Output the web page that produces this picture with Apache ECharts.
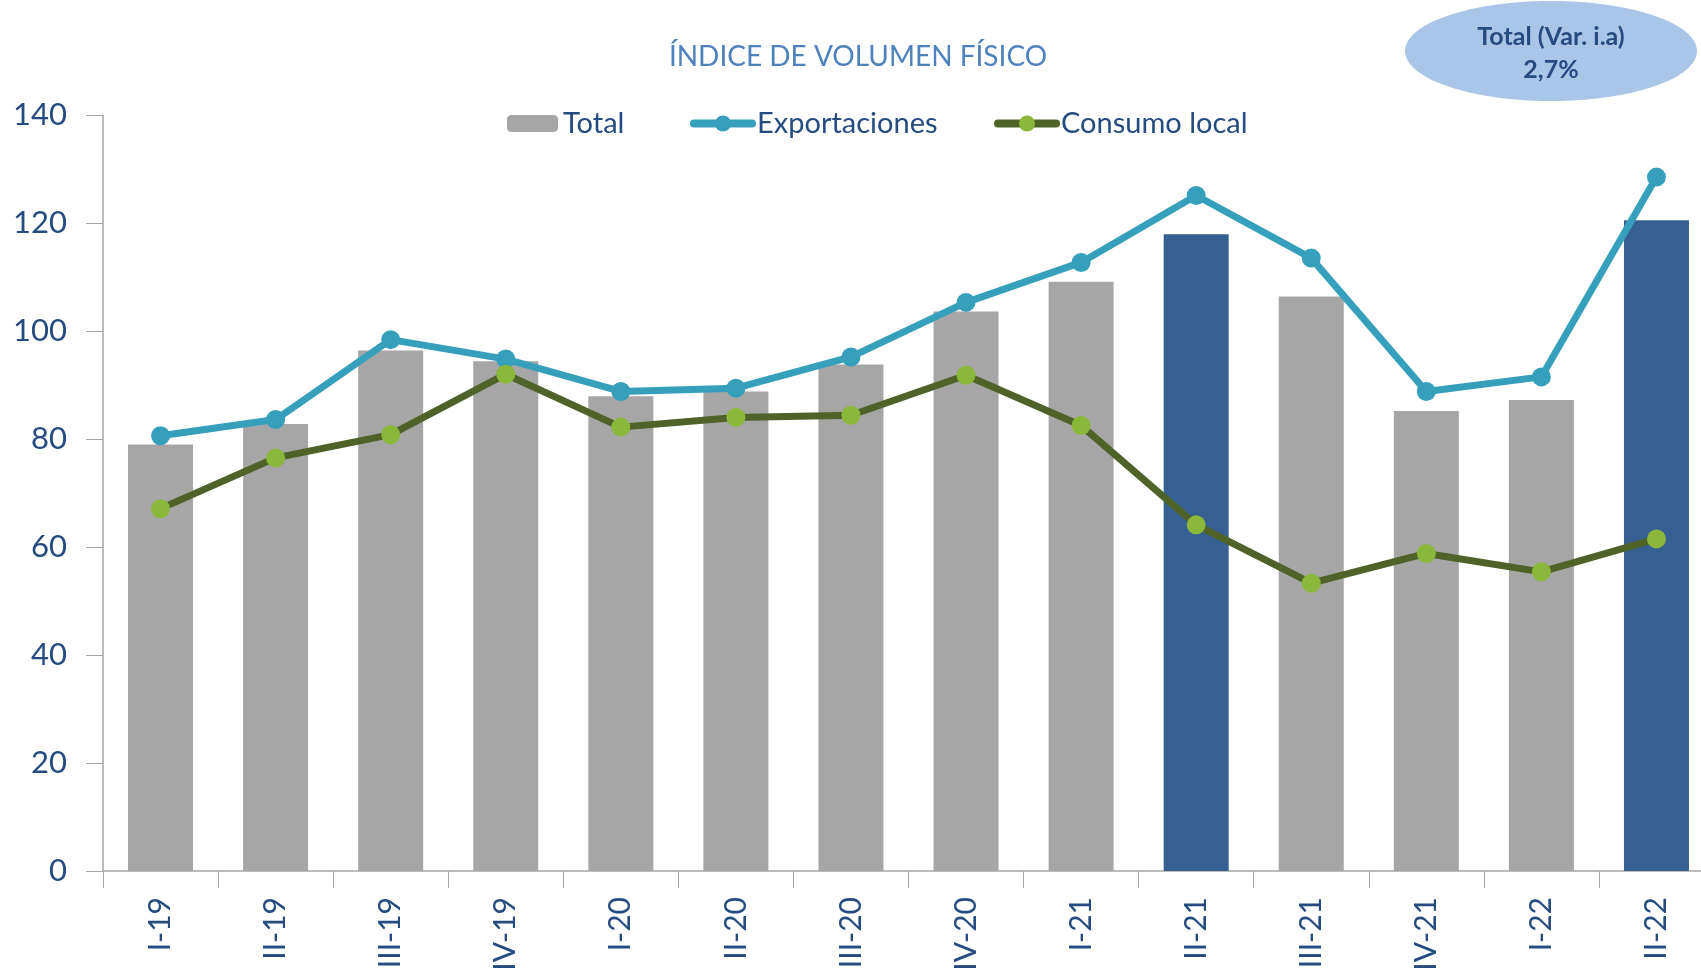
<!DOCTYPE html>
<html>
<head>
<meta charset="utf-8">
<script src="https://cdn.jsdelivr.net/npm/echarts@6/dist/echarts.min.js"></script>
<style>
  html, body { margin: 0; padding: 0; background: #fff; }
  #chart { width: 1701px; height: 977px; }
</style>
</head>
<body>
<div id="chart"></div>
<script>
// trimestres
const categories = ['I-19', 'II-19', 'III-19', 'IV-19', 'I-20', 'II-20', 'III-20', 'IV-20',
  'I-21', 'II-21', 'III-21', 'IV-21', 'I-22', 'II-22'];
const total = [79.0, 82.8, 96.4, 94.4, 87.9, 88.8, 93.8, 103.6, 109.1, 117.9, 106.4, 85.2, 87.2, 120.5];
const exportaciones = [80.6, 83.6, 98.4, 94.8, 88.8, 89.4, 95.2, 105.3, 112.7, 125.1, 113.5, 88.8, 91.5, 128.5];
const consumoLocal = [67.1, 76.5, 80.8, 92.0, 82.2, 84.0, 84.4, 91.8, 82.5, 64.1, 53.3, 58.8, 55.4, 61.5];
const highlighted = ['II-21', 'II-22'];
const yTicks = [0, 20, 40, 60, 80, 100, 120, 140];
const badgeLines = ['Total (Var. i.a)', '2,7%'];

const FONT = 'Lato';
const DARK_BLUE = '#264b80';
const GREY = '#a6a6a6';

let chart = echarts.init(document.getElementById('chart'));

let totalData = total.map((v, i) => {
  if (highlighted.indexOf(categories[i]) >= 0) {
    return { value: v, itemStyle: { color: '#366092' } };
  }
  return v;
});

const legendText = { color: DARK_BLUE, fontFamily: FONT, fontSize: 29 };

chart.setOption({
  backgroundColor: '#fff',
  animation: false,
  title: {
    text: 'ÍNDICE DE VOLUMEN FÍSICO',
    left: 853,
    textAlign: 'center',
    top: 38,
    textStyle: { color: '#4f81bd', fontFamily: FONT, fontWeight: 'normal', fontSize: 28 }
  },
  legend: [
    {
      data: ['Total'], left: 507, top: 109, padding: 0, itemWidth: 51, itemHeight: 17,
      textStyle: legendText
    },
    {
      data: ['Exportaciones'], left: 690, top: 109, padding: 0, itemWidth: 58, itemHeight: 20,
      itemGap: 0,
      lineStyle: { width: 8, cap: 'round' },
      textStyle: legendText
    },
    {
      data: ['Consumo local'], left: 994, top: 109, padding: 0, itemWidth: 58, itemHeight: 20,
      lineStyle: { width: 8, cap: 'round' },
      textStyle: legendText
    }
  ],
  grid: { left: 103, right: -13, top: 115, bottom: 106, containLabel: false, outerBoundsMode: 'none' },
  xAxis: {
    type: 'category',
    data: categories,
    axisLine: { lineStyle: { color: GREY, width: 1.5 } },
    axisTick: { show: true, length: 17, lineStyle: { color: GREY } },
    axisLabel: { rotate: 90, margin: 26, color: DARK_BLUE, fontFamily: FONT, fontSize: 30 }
  },
  yAxis: {
    type: 'value',
    min: yTicks[0],
    max: yTicks[yTicks.length - 1],
    interval: 20,
    splitLine: { show: false },
    axisLine: { show: true, lineStyle: { color: GREY, width: 1.5 } },
    axisTick: { show: true, length: 17, lineStyle: { color: GREY } },
    axisLabel: { margin: 36, color: DARK_BLUE, fontFamily: FONT, fontSize: 31 }
  },
  graphic: [
    {
      type: 'ellipse',
      shape: { cx: 1551, cy: 51, rx: 146, ry: 50 },
      style: { fill: '#a9c5e8' }
    },
    {
      type: 'text',
      x: 1551, y: 20,
      style: {
        text: badgeLines.join('\n'),
        align: 'center',
        fill: DARK_BLUE,
        font: 'bold 25px Lato',
        lineHeight: 33
      }
    }
  ],
  series: [
    {
      name: 'Total',
      type: 'bar',
      data: totalData,
      barWidth: 65,
      itemStyle: { color: GREY },
      z: 1
    },
    {
      name: 'Exportaciones',
      type: 'line',
      data: exportaciones,
      symbol: 'circle',
      symbolSize: 19,
      lineStyle: { color: '#36a0bc', width: 7 },
      itemStyle: { color: '#36a0bc' },
      z: 3
    },
    {
      name: 'Consumo local',
      type: 'line',
      data: consumoLocal,
      symbol: 'circle',
      symbolSize: 19,
      lineStyle: { color: '#4f6228', width: 7 },
      itemStyle: { color: '#8bb73a' },
      z: 4
    }
  ]
});
</script>
</body>
</html>
